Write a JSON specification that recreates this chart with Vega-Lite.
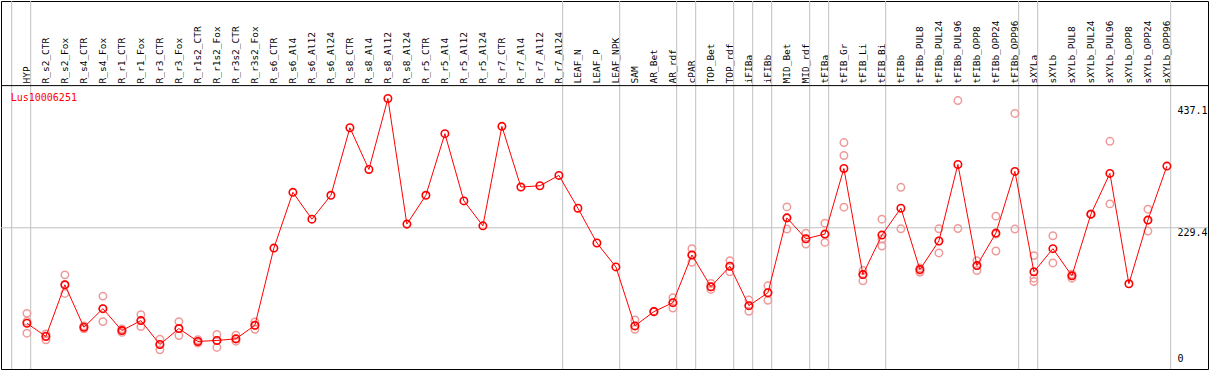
{
  "$schema": "https://vega.github.io/schema/vega-lite/v6.json",
  "width": 1209,
  "height": 370,
  "autosize": {"type": "fit", "contains": "padding"},
  "padding": 0,
  "background": "white",
  "config": {
    "view": {"stroke": "black", "strokeWidth": 1},
    "font": "DejaVu Sans Mono",
    "axis": {"labelFont": "DejaVu Sans Mono", "labelColor": "black"}
  },
  "datasets": {
    "means": [
      {"s": "HYP", "v": 67.5}, {"s": "R_s2_CTR", "v": 45}, {"s": "R_s2_Fox", "v": 132.7}, {"s": "R_s4_CTR", "v": 60.7},
      {"s": "R_s4_Fox", "v": 92.2}, {"s": "R_r1_CTR", "v": 55.1}, {"s": "R_r1_Fox", "v": 72}, {"s": "R_r3_CTR", "v": 31.5},
      {"s": "R_r3_Fox", "v": 58.5}, {"s": "R_r1s2_CTR", "v": 36.6}, {"s": "R_r1s2_Fox", "v": 38.3}, {"s": "R_r3s2_CTR", "v": 41},
      {"s": "R_r3s2_Fox", "v": 64}, {"s": "R_s6_CTR", "v": 195}, {"s": "R_s6_Al4", "v": 289.5}, {"s": "R_s6_Al12", "v": 244},
      {"s": "R_s6_Al24", "v": 284.5}, {"s": "R_s8_CTR", "v": 399}, {"s": "R_s8_Al4", "v": 328.3}, {"s": "R_s8_Al12", "v": 448.6},
      {"s": "R_s8_Al24", "v": 235.6}, {"s": "R_r5_CTR", "v": 284.5}, {"s": "R_r5_Al4", "v": 389}, {"s": "R_r5_Al12", "v": 275},
      {"s": "R_r5_Al24", "v": 232.7}, {"s": "R_r7_CTR", "v": 401.4}, {"s": "R_r7_Al4", "v": 298.5}, {"s": "R_r7_Al12", "v": 300.7},
      {"s": "R_r7_Al24", "v": 318.2}, {"s": "LEAF_N", "v": 262.6}, {"s": "LEAF_P", "v": 203.6}, {"s": "LEAF_NPK", "v": 163},
      {"s": "SAM", "v": 63}, {"s": "AR_Bet", "v": 87.2}, {"s": "AR_rdf", "v": 102.4}, {"s": "cPAR", "v": 183.3},
      {"s": "TOP_Bet", "v": 129.3}, {"s": "TOP_rdf", "v": 164.2}, {"s": "iFIBa", "v": 97.3}, {"s": "iFIBb", "v": 119.2},
      {"s": "MID_Bet", "v": 246.2}, {"s": "MID_rdf", "v": 210.8}, {"s": "tFIBa", "v": 218.7}, {"s": "tFIB_Gr", "v": 330},
      {"s": "tFIB_Li", "v": 150.1}, {"s": "tFIB_Bi", "v": 217}, {"s": "tFIBb", "v": 262.6}, {"s": "tFIBb_PUL8", "v": 158.5},
      {"s": "tFIBb_PUL24", "v": 207}, {"s": "tFIBb_PUL96", "v": 336.8}, {"s": "tFIBb_OPP8", "v": 165.3}, {"s": "tFIBb_OPP24", "v": 220.4},
      {"s": "tFIBb_OPP96", "v": 325}, {"s": "sXYLa", "v": 154.7}, {"s": "sXYLb", "v": 194}, {"s": "sXYLb_PUL8", "v": 147.9},
      {"s": "sXYLb_PUL24", "v": 252.5}, {"s": "sXYLb_PUL96", "v": 321.6}, {"s": "sXYLb_OPP8", "v": 134.4}, {"s": "sXYLb_OPP24", "v": 242.4},
      {"s": "sXYLb_OPP96", "v": 334}
    ],
    "reps": [
      {"s": "HYP", "v": 84.3}, {"s": "HYP", "v": 70.8}, {"s": "HYP", "v": 50.6},
      {"s": "R_s2_CTR", "v": 49.4}, {"s": "R_s2_CTR", "v": 46}, {"s": "R_s2_CTR", "v": 39.3},
      {"s": "R_s2_Fox", "v": 149.6}, {"s": "R_s2_Fox", "v": 132.7}, {"s": "R_s2_Fox", "v": 118},
      {"s": "R_s4_CTR", "v": 58}, {"s": "R_s4_CTR", "v": 61}, {"s": "R_s4_CTR", "v": 63},
      {"s": "R_s4_Fox", "v": 113.5}, {"s": "R_s4_Fox", "v": 92.2}, {"s": "R_s4_Fox", "v": 70.3},
      {"s": "R_r1_CTR", "v": 52}, {"s": "R_r1_CTR", "v": 55}, {"s": "R_r1_CTR", "v": 58},
      {"s": "R_r1_Fox", "v": 82.1}, {"s": "R_r1_Fox", "v": 72}, {"s": "R_r1_Fox", "v": 61.9},
      {"s": "R_r3_CTR", "v": 40.5}, {"s": "R_r3_CTR", "v": 31.5}, {"s": "R_r3_CTR", "v": 22.4},
      {"s": "R_r3_Fox", "v": 70.3}, {"s": "R_r3_Fox", "v": 58.5}, {"s": "R_r3_Fox", "v": 46.7},
      {"s": "R_r1s2_CTR", "v": 39.5}, {"s": "R_r1s2_CTR", "v": 36}, {"s": "R_r1s2_CTR", "v": 34},
      {"s": "R_r1s2_Fox", "v": 48.4}, {"s": "R_r1s2_Fox", "v": 38.3}, {"s": "R_r1s2_Fox", "v": 26.5},
      {"s": "R_r3s2_CTR", "v": 47.2}, {"s": "R_r3s2_CTR", "v": 41}, {"s": "R_r3s2_CTR", "v": 37.1},
      {"s": "R_r3s2_Fox", "v": 69.7}, {"s": "R_r3s2_Fox", "v": 64.1}, {"s": "R_r3s2_Fox", "v": 57.3},
      {"s": "SAM", "v": 73}, {"s": "SAM", "v": 63}, {"s": "SAM", "v": 57.3},
      {"s": "AR_Bet", "v": 87}, {"s": "AR_Bet", "v": 87.5}, {"s": "AR_Bet", "v": 88},
      {"s": "AR_rdf", "v": 110.8}, {"s": "AR_rdf", "v": 102.4}, {"s": "AR_rdf", "v": 93.3},
      {"s": "cPAR", "v": 194}, {"s": "cPAR", "v": 183.3}, {"s": "cPAR", "v": 170.9},
      {"s": "TOP_Bet", "v": 134.9}, {"s": "TOP_Bet", "v": 129.3}, {"s": "TOP_Bet", "v": 124.8},
      {"s": "TOP_rdf", "v": 173.7}, {"s": "TOP_rdf", "v": 164.2}, {"s": "TOP_rdf", "v": 154.7},
      {"s": "iFIBa", "v": 106.8}, {"s": "iFIBa", "v": 97.3}, {"s": "iFIBa", "v": 87.7},
      {"s": "iFIBb", "v": 131}, {"s": "iFIBb", "v": 119.2}, {"s": "iFIBb", "v": 106.3},
      {"s": "MID_Bet", "v": 264.8}, {"s": "MID_Bet", "v": 246.2}, {"s": "MID_Bet", "v": 227.2},
      {"s": "MID_rdf", "v": 220.4}, {"s": "MID_rdf", "v": 210.8}, {"s": "MID_rdf", "v": 201.9},
      {"s": "tFIBa", "v": 237.2}, {"s": "tFIBa", "v": 218.7}, {"s": "tFIBa", "v": 204.6},
      {"s": "tFIB_Gr", "v": 373.9}, {"s": "tFIB_Gr", "v": 352}, {"s": "tFIB_Gr", "v": 264.3},
      {"s": "tFIB_Li", "v": 156.9}, {"s": "tFIB_Li", "v": 150.1}, {"s": "tFIB_Li", "v": 139.5},
      {"s": "tFIB_Bi", "v": 244}, {"s": "tFIB_Bi", "v": 210.3}, {"s": "tFIB_Bi", "v": 198.5},
      {"s": "tFIBb", "v": 298}, {"s": "tFIBb", "v": 227.7},
      {"s": "tFIBb_PUL8", "v": 161.4}, {"s": "tFIBb_PUL8", "v": 157.4}, {"s": "tFIBb_PUL8", "v": 154},
      {"s": "tFIBb_PUL24", "v": 227.7}, {"s": "tFIBb_PUL24", "v": 207}, {"s": "tFIBb_PUL24", "v": 186.7},
      {"s": "tFIBb_PUL96", "v": 445.2}, {"s": "tFIBb_PUL96", "v": 228.2},
      {"s": "tFIBb_OPP8", "v": 173.7}, {"s": "tFIBb_OPP8", "v": 165.3}, {"s": "tFIBb_OPP8", "v": 156.9},
      {"s": "tFIBb_OPP24", "v": 249.1}, {"s": "tFIBb_OPP24", "v": 218.7}, {"s": "tFIBb_OPP24", "v": 190},
      {"s": "tFIBb_OPP96", "v": 423.3}, {"s": "tFIBb_OPP96", "v": 227.2},
      {"s": "sXYLa", "v": 182.2}, {"s": "sXYLa", "v": 143.9}, {"s": "sXYLa", "v": 138.3},
      {"s": "sXYLb", "v": 215.9}, {"s": "sXYLb", "v": 169.8},
      {"s": "sXYLb_PUL8", "v": 150.6}, {"s": "sXYLb_PUL8", "v": 147.9}, {"s": "sXYLb_PUL8", "v": 143.9},
      {"s": "sXYLb_PUL24", "v": 253}, {"s": "sXYLb_PUL24", "v": 252.5}, {"s": "sXYLb_PUL24", "v": 252},
      {"s": "sXYLb_PUL96", "v": 376.1}, {"s": "sXYLb_PUL96", "v": 269.9},
      {"s": "sXYLb_OPP24", "v": 260.9}, {"s": "sXYLb_OPP24", "v": 242.4}, {"s": "sXYLb_OPP24", "v": 223.8}
    ],
    "seps": [
      {"s": "HYP"}, {"s": "R_s2_CTR"}, {"s": "LEAF_N"}, {"s": "SAM"}, {"s": "cPAR"}, {"s": "TOP_Bet"},
      {"s": "iFIBa"}, {"s": "iFIBb"}, {"s": "MID_Bet"}, {"s": "tFIBa"}, {"s": "tFIB_Gr"}, {"s": "tFIBb"},
      {"s": "sXYLa"}, {"s": "sXYLb"}
    ],
    "hlines": [
      {"h": 229.4, "kind": "grid"},
      {"h": 470.5, "kind": "frame"}
    ]
  },
  "encoding": {
    "x": {
      "field": "s",
      "type": "nominal",
      "bandPosition": 0.8,
      "scale": {
        "type": "band",
        "domain": ["HYP","R_s2_CTR","R_s2_Fox","R_s4_CTR","R_s4_Fox","R_r1_CTR","R_r1_Fox","R_r3_CTR","R_r3_Fox","R_r1s2_CTR","R_r1s2_Fox","R_r3s2_CTR","R_r3s2_Fox","R_s6_CTR","R_s6_Al4","R_s6_Al12","R_s6_Al24","R_s8_CTR","R_s8_Al4","R_s8_Al12","R_s8_Al24","R_r5_CTR","R_r5_Al4","R_r5_Al12","R_r5_Al24","R_r7_CTR","R_r7_Al4","R_r7_Al12","R_r7_Al24","LEAF_N","LEAF_P","LEAF_NPK","SAM","AR_Bet","AR_rdf","cPAR","TOP_Bet","TOP_rdf","iFIBa","iFIBb","MID_Bet","MID_rdf","tFIBa","tFIB_Gr","tFIB_Li","tFIB_Bi","tFIBb","tFIBb_PUL8","tFIBb_PUL24","tFIBb_PUL96","tFIBb_OPP8","tFIBb_OPP24","tFIBb_OPP96","sXYLa","sXYLb","sXYLb_PUL8","sXYLb_PUL24","sXYLb_PUL96","sXYLb_OPP8","sXYLb_OPP24","sXYLb_OPP96"],
        "range": [10.7, 1169.7],
        "paddingInner": 0,
        "paddingOuter": 0
      },
      "axis": {
        "orient": "top",
        "offset": -85,
        "title": null,
        "labelAngle": -90,
        "labelFontSize": 9.5,
        "labelPadding": 3,
        "labelOffset": 5.3,
        "ticks": false,
        "grid": false,
        "domain": false,
        "labelOverlap": false
      }
    },
    "y": {
      "field": "v",
      "type": "quantitative",
      "scale": {"domain": [-10.1, 614], "nice": false, "zero": false},
      "axis": {
        "orient": "right",
        "offset": -39,
        "title": null,
        "values": [0, 229.4, 437.1],
        "labelExpr": "'' + datum.value",
        "labelAlign": "left",
        "labelBaseline": {"condition": {"test": "datum.value === 0", "value": "bottom"}, "value": "top"},
        "labelPadding": 8,
        "labelFontSize": 10,
        "ticks": false,
        "domain": false,
        "grid": false
      }
    }
  },
  "layer": [
    {
      "data": {"name": "seps"},
      "mark": {"type": "rule", "color": "#c0c0c0", "strokeWidth": 1},
      "encoding": {"x": {"field": "s", "type": "nominal", "bandPosition": 0}, "y": null}
    },
    {
      "data": {"values": [{"s": "sXYLb_OPP96"}]},
      "mark": {"type": "rule", "color": "#c0c0c0", "strokeWidth": 1},
      "encoding": {"x": {"field": "s", "type": "nominal", "bandPosition": 1}, "y": null}
    },
    {
      "data": {"name": "hlines"},
      "mark": {"type": "rule", "strokeWidth": 1},
      "encoding": {
        "y": {"field": "h", "type": "quantitative"},
        "x": null,
        "color": {"field": "kind", "type": "nominal", "scale": {"domain": ["grid", "frame"], "range": ["#c0c0c0", "black"]}, "legend": null}
      }
    },
    {
      "data": {"name": "reps"},
      "mark": {"type": "point", "shape": "circle", "filled": false, "stroke": "#ef9a9a", "strokeWidth": 1.5, "size": 55, "opacity": 1}
    },
    {
      "data": {"name": "means"},
      "mark": {"type": "line", "color": "red", "strokeWidth": 1}
    },
    {
      "data": {"name": "means"},
      "mark": {"type": "point", "shape": "circle", "filled": false, "stroke": "red", "strokeWidth": 1.6, "size": 55, "opacity": 1}
    },
    {
      "data": {"values": [{"s": "HYP", "t": "Lus10006251", "v": 450}]},
      "mark": {"type": "text", "color": "red", "fontSize": 10, "font": "DejaVu Sans Mono", "align": "left", "baseline": "middle", "dx": -1},
      "encoding": {
        "x": {"field": "s", "type": "nominal", "bandPosition": 0},
        "text": {"field": "t"}
      }
    }
  ]
}
